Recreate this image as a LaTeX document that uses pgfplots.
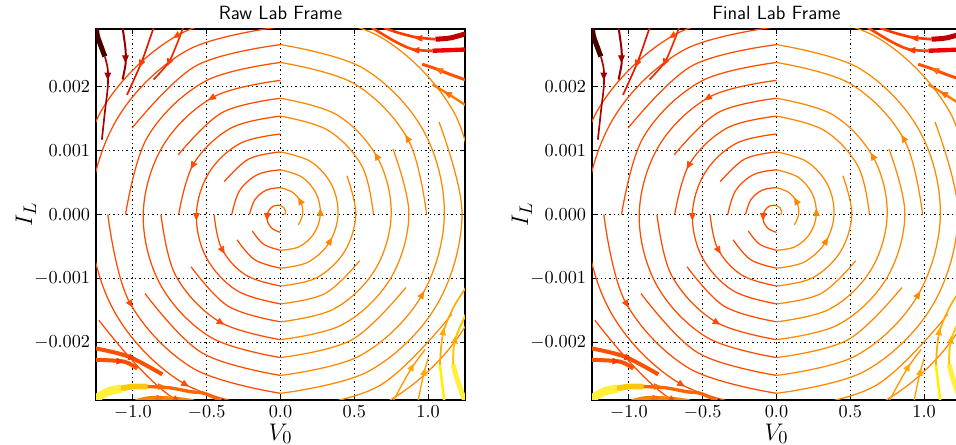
\documentclass[border=0pt]{standalone}
\usepackage{pgfplots}
\pgfplotsset{compat=1.18}
\usetikzlibrary{arrows.meta}
\definecolor{cL}{RGB}{255,75,0}
\definecolor{cR}{RGB}{255,135,0}
\definecolor{drA}{RGB}{190,0,0}
\definecolor{orA}{RGB}{255,60,0}
\definecolor{rdB}{RGB}{240,0,0}
\definecolor{orB}{RGB}{255,70,0}
\definecolor{orC}{RGB}{255,80,0}
\definecolor{orD}{RGB}{255,120,0}
\definecolor{dkA}{RGB}{70,0,0}
\definecolor{dkB}{RGB}{170,0,0}
\definecolor{dkC}{RGB}{150,0,0}
\definecolor{rdC}{RGB}{230,20,0}
\definecolor{rdD}{RGB}{240,40,0}
\definecolor{yeA}{RGB}{255,240,60}
\definecolor{yeB}{RGB}{255,200,0}
\definecolor{orE}{RGB}{255,100,0}
\definecolor{orF}{RGB}{255,130,0}
\definecolor{yeC}{RGB}{255,240,0}
\definecolor{yeD}{RGB}{255,170,0}
\definecolor{orG}{RGB}{255,160,0}
\definecolor{orH}{RGB}{255,150,0}
\definecolor{qA}{RGB}{160,0,0}
\definecolor{qB}{RGB}{255,110,0}
\pgfplotsset{
  qv/.style={color=#1, line width=0.5pt, quiver={u=\thisrow{u},v=\thisrow{v}}, -{Triangle[length=4.5pt,width=4pt]}}
}
% I_L values are given in units of 0.001 (tick labels show the original units)
\newcommand{\streams}{%
\addplot[smooth, tension=0.6, color=cR, line width=0.75pt] coordinates {(0.030,0) (0.035,0.047) (0.025,0.101) (0,0.140)};
\addplot[smooth, tension=0.6, color=cL, line width=0.75pt] coordinates {(0,0.140) (-0.035,0.141) (-0.069,0.093) (-0.090,0) (-0.087,-0.117) (-0.055,-0.222) (0,-0.280)};
\addplot[smooth, tension=0.6, color=cR, line width=0.75pt] coordinates {(0.121,-0.163) (0.150,0) (0.139,0.186) (0.085,0.343) (0,0.419)};
\addplot[smooth, tension=0.6, color=cL, line width=0.75pt] coordinates {(0,0.419) (-0.095,0.383) (-0.173,0.233) (-0.210,0)};
\addplot[smooth, tension=0.6, color=cL, line width=0.75pt] coordinates {(-0.191,-0.256) (-0.115,-0.464) (0,-0.559)};
\addplot[smooth, tension=0.6, color=cR, line width=0.75pt] coordinates {(0,-0.559) (0.125,-0.505) (0.225,-0.303) (0.270,0) (0.242,0.326) (0.145,0.585) (0,0.699)};
\addplot[smooth, tension=0.6, color=cL, line width=0.75pt] coordinates {(0,0.699) (-0.155,0.625) (-0.277,0.373) (-0.330,0)};
\addplot[smooth, tension=0.6, color=cL, line width=0.75pt] coordinates {(-0.294,-0.396) (-0.175,-0.707) (0,-0.839)};
\addplot[smooth, tension=0.6, color=cR, line width=0.75pt] coordinates {(0,-0.839) (0.185,-0.746) (0.329,-0.443) (0.390,0) (0.346,0.466) (0.205,0.827) (0,0.979)};
\addplot[smooth, tension=0.6, color=cL, line width=0.75pt] coordinates {(0,0.979) (-0.215,0.868) (-0.381,0.513)};
\addplot[smooth, tension=0.6, color=cL, line width=0.75pt] coordinates {(-0.450,0) (-0.398,-0.536) (-0.235,-0.948) (0,-1.118)};
\addplot[smooth, tension=0.6, color=cR, line width=0.75pt] coordinates {(0,-1.118) (0.245,-0.989) (0.433,-0.583) (0.510,0) (0.450,0.606)};
\addplot[smooth, tension=0.6, color=cL, line width=0.75pt] coordinates {(0,1.258) (-0.275,1.110) (-0.485,0.652) (-0.570,0) (-0.502,-0.676) (-0.295,-1.190) (0,-1.398)};
\addplot[smooth, tension=0.6, color=cR, line width=0.75pt] coordinates {(0,-1.398) (0.305,-1.231) (0.537,-0.722)};
\addplot[smooth, tension=0.6, color=cR, line width=0.75pt] coordinates {(0.630,0) (0.554,0.746) (0.325,1.312) (0,1.538)};
\addplot[smooth, tension=0.6, color=cL, line width=0.75pt] coordinates {(0,1.538) (-0.335,1.352) (-0.589,0.792) (-0.690,0)};
\addplot[smooth, tension=0.6, color=cL, line width=0.75pt] coordinates {(-0.606,-0.816) (-0.355,-1.433) (0,-1.678)};
\addplot[smooth, tension=0.6, color=cR, line width=0.75pt] coordinates {(0,-1.678) (0.365,-1.473) (0.641,-0.862) (0.750,0) (0.658,0.885) (0.385,1.554) (0,1.817)};
\addplot[smooth, tension=0.6, color=cL, line width=0.75pt] coordinates {(0,1.817) (-0.395,1.594) (-0.693,0.932)};
\addplot[smooth, tension=0.6, color=cL, line width=0.75pt] coordinates {(-0.810,0) (-0.710,-0.955) (-0.415,-1.675) (0,-1.957)};
\addplot[smooth, tension=0.6, color=cR, line width=0.75pt] coordinates {(0,-1.957) (0.425,-1.715) (0.745,-1.002) (0.870,0) (0.762,1.025)};
\addplot[smooth, tension=0.6, color=cL, line width=0.75pt] coordinates {(0,2.097) (-0.455,1.836) (-0.797,1.072) (-0.930,0) (-0.814,-1.095) (-0.475,-1.917) (0,-2.237)};
\addplot[smooth, tension=0.6, color=cR, line width=0.75pt] coordinates {(0,-2.237) (0.485,-1.957) (0.849,-1.142)};
\addplot[smooth, tension=0.6, color=cR, line width=0.75pt] coordinates {(0.990,0) (0.866,1.165) (0.505,2.038) (0,2.377)};
\addplot[smooth, tension=0.6, color=cL, line width=0.75pt] coordinates {(0,2.377) (-0.515,2.078) (-0.901,1.212) (-1.050,0)};
\addplot[smooth, tension=0.6, color=cL, line width=0.75pt] coordinates {(-0.918,-1.235) (-0.535,-2.159) (0,-2.516)};
\addplot[smooth, tension=0.6, color=cR, line width=0.75pt] coordinates {(0,-2.516) (0.545,-2.200) (0.953,-1.282) (1.110,0) (0.970,1.305) (0.565,2.280) (0,2.656)};
\addplot[smooth, tension=0.6, color=cL, line width=0.75pt] coordinates {(0,2.656) (-0.575,2.321) (-1.005,1.352)};
\addplot[smooth, tension=0.6, color=cL, line width=0.75pt] coordinates {(-1.170,0) (-1.022,-1.375) (-0.595,-2.401) (0,-2.796)};
\addplot[smooth, tension=0.6, color=cR, line width=0.75pt] coordinates {(0,-2.796) (0.605,-2.441) (1.057,-1.422) (1.230,0) (1.074,1.445)};
\addplot[smooth, tension=0.6, color=cL, line width=0.75pt] coordinates {(0,2.936) (-0.635,2.563) (-1.108,1.491) (-1.290,0) (-1.126,-1.515) (-0.655,-2.643) (0,-3.076)};
\addplot[smooth, tension=0.6, color=cR, line width=0.75pt] coordinates {(0,-3.076) (0.665,-2.684) (1.160,-1.561)};
\addplot[smooth, tension=0.6, color=cR, line width=0.75pt] coordinates {(1.350,0) (1.178,1.585) (0.685,2.764) (0,3.215)};
\addplot[smooth, tension=0.6, color=cL, line width=0.75pt] coordinates {(0,3.215) (-0.695,2.805) (-1.212,1.631) (-1.410,0)};
\addplot[smooth, tension=0.6, color=cL, line width=0.75pt] coordinates {(-1.230,-1.654) (-0.715,-2.886) (0,-3.355)};
\addplot[smooth, tension=0.6, color=cR, line width=0.75pt] coordinates {(0,-3.355) (0.725,-2.926) (1.264,-1.701) (1.470,0)};
% corner streamlines: top right
\addplot[smooth, color=drA, line width=3pt] coordinates {(1.26,2.83) (1.15,2.76) (1.05,2.74)};
\addplot[smooth, color=orA, line width=1.6pt] coordinates {(1.05,2.74) (0.92,2.77) (0.80,2.84) (0.70,2.92)};
\addplot[smooth, color=rdB, line width=2.6pt] coordinates {(1.26,2.58) (1.15,2.57) (1.03,2.56)};
\addplot[smooth, color=orB, line width=1.6pt] coordinates {(1.03,2.56) (0.90,2.58) (0.78,2.70) (0.62,2.92)};
\addplot[smooth, color=orC, line width=1.8pt] coordinates {(1.26,2.10) (1.15,2.19) (1.05,2.28) (0.96,2.35)};
\addplot[smooth, color=orD, line width=1.4pt] coordinates {(1.26,1.70) (1.14,1.88) (1.03,2.03)};
% top left
\addplot[smooth, color=dkA, line width=3pt] coordinates {(-1.245,2.92) (-1.24,2.79) (-1.19,2.47)};
\addplot[smooth, color=dkB, line width=1pt] coordinates {(-1.19,2.47) (-1.17,2.27) (-1.17,2.00) (-1.19,1.60) (-1.21,1.17)};
\addplot[smooth, color=dkC, line width=1.2pt] coordinates {(-1.07,2.92) (-1.05,2.58) (-1.05,2.35) (-1.07,2.11)};
\addplot[smooth, color=rdC, line width=1pt] coordinates {(-0.86,2.92) (-0.94,2.39) (-1.04,1.87)};
\addplot[smooth, color=rdD, line width=1pt] coordinates {(-0.66,2.92) (-0.75,2.41) (-0.86,2.11)};
% bottom left
\addplot[smooth, color=yeA, line width=5pt] coordinates {(-1.26,-2.89) (-1.17,-2.77) (-1.08,-2.72)};
\addplot[smooth, color=yeB, line width=3.5pt] coordinates {(-1.08,-2.72) (-1.00,-2.69) (-0.90,-2.69)};
\addplot[smooth, color=orE, line width=2pt] coordinates {(-0.90,-2.69) (-0.75,-2.71) (-0.61,-2.77) (-0.51,-2.80) (-0.40,-2.92)};
\addplot[smooth, color=orF, line width=2.5pt] coordinates {(-0.98,-2.92) (-0.88,-2.87) (-0.72,-2.88) (-0.59,-2.92)};
\addplot[smooth, color=orC, line width=2.4pt] coordinates {(-1.26,-2.09) (-1.03,-2.22) (-0.80,-2.50)};
\addplot[smooth, color=orC, line width=2.4pt] coordinates {(-1.26,-2.27) (-1.06,-2.30) (-0.97,-2.41)};
% bottom right
\addplot[smooth, color=yeC, line width=1.5pt] coordinates {(1.11,-2.93) (1.08,-2.35)};
\addplot[smooth, color=yeD, line width=1pt] coordinates {(1.08,-2.35) (1.10,-1.87) (1.17,-1.46) (1.26,-1.13)};
\addplot[smooth, color=yeA, line width=3pt] coordinates {(1.25,-2.92) (1.20,-2.60) (1.17,-2.35)};
\addplot[smooth, color=yeB, line width=1.2pt] coordinates {(1.17,-2.35) (1.18,-1.98) (1.26,-1.54)};
\addplot[smooth, color=orG, line width=0.8pt] coordinates {(0.93,-2.93) (0.97,-2.50) (1.00,-2.25)};
\addplot[smooth, color=orH, line width=0.8pt] coordinates {(0.76,-2.93) (0.88,-2.43) (0.98,-2.11)};
% arrow heads (position and direction of flow)
\addplot[qv=cL] table[row sep=\\] {x y u v\\ -0.090 0 0 -0.094\\ -0.398 -0.536 0.02 -0.080\\ -0.570 0 0 -0.094\\ -0.589 0.792 -0.02 -0.080\\ -0.415 -1.675 0.034 -0.046\\ -0.455 1.836 -0.034 -0.046\\ -1.022 -1.375 0.02 -0.080\\ -0.655 -2.643 0.034 -0.046\\ -0.695 2.805 -0.034 -0.046\\ -0.715 -2.886 0.034 -0.046\\};
\addplot[qv=cR] table[row sep=\\] {x y u v\\ 0.139 0.186 -0.02 0.080\\ 0.270 0 0 0.094\\ 0.329 -0.443 0.02 0.080\\ 0.658 0.885 -0.02 0.080\\ 0.866 1.165 -0.02 0.080\\ 0.953 -1.282 0.02 0.080\\};
\addplot[qv=qA] table[row sep=\\] {x y u v\\ -1.17 2.20 0 -0.1\\ -1.05 2.47 0 -0.1\\};
\addplot[qv=orA] table[row sep=\\] {x y u v\\ 0.97 2.755 -0.06 0\\ 0.95 2.565 -0.06 0.006\\ -0.94 2.39 -0.016 -0.09\\ -0.75 2.41 -0.016 -0.09\\ -1.03 -2.22 0.05 -0.044\\ -1.12 -2.29 0.06 -0.01\\};
\addplot[qv=qB] table[row sep=\\] {x y u v\\ 1.10 2.235 -0.05 0.044\\ 1.14 1.88 -0.03 0.04\\ -0.84 -2.69 0.06 0\\ -0.85 -2.87 0.06 0\\};
\addplot[qv=yeD] table[row sep=\\] {x y u v\\ 1.10 -1.87 0.006 0.1\\ 1.18 -2.00 0.004 0.1\\ 0.97 -2.50 0.01 0.1\\ 0.88 -2.43 0.024 0.1\\};
}
\pgfplotsset{
  sfield/.style={
    anchor=south west, scale only axis,
    width=221.4pt, height=222.6pt,
    xmin=-1.25, xmax=1.25, ymin=-2.9, ymax=2.9,
    xtick={-1,-0.5,0,0.5,1},
    ytick={-2,-1,0,1,2},
    yticklabels={$-0.002$,$-0.001$,$0.000$,$0.001$,$0.002$},
    scaled x ticks=false,
    xticklabel style={/pgf/number format/.cd, fixed, fixed zerofill, precision=1},
    ticklabel style={font=\fontsize{10.5}{12}\selectfont},
    grid=major,
    major grid style={black, line width=0.6pt, dash pattern=on 0.7pt off 1.9pt},
    tick align=inside, major tick length=3pt,
    tick style={black, line width=0.6pt},
    axis line style={black, line width=0.8pt},
    xlabel={$V_0$}, ylabel={$I_L$},
    label style={font=\fontsize{15}{18}\selectfont},
    xlabel style={yshift=4pt},
    ylabel style={yshift=-8pt},
    title style={font=\sffamily\fontsize{11.5}{13}\selectfont, yshift=-4pt},
    clip=true,
  }
}
\begin{document}
\begin{tikzpicture}
\useasboundingbox (0,0) rectangle (573.6pt,267pt);
\begin{axis}[sfield, at={(57.6pt,27pt)}, title={Raw Lab Frame}]
\streams
\end{axis}
\begin{axis}[sfield, at={(355.2pt,27pt)}, title={Final Lab Frame}]
\streams
\end{axis}
\end{tikzpicture}
\end{document}
